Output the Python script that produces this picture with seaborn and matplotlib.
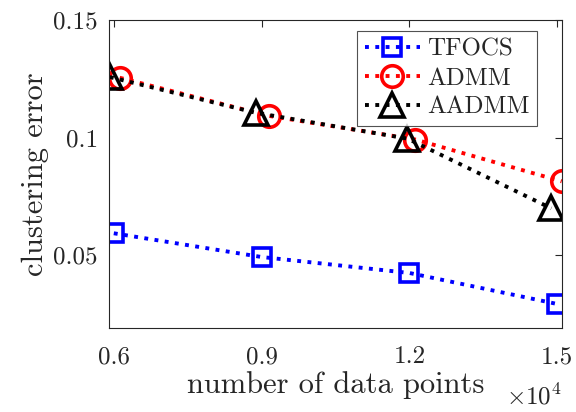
import numpy as np
import pandas as pd
import matplotlib
matplotlib.use("Agg")
import matplotlib.pyplot as plt
from matplotlib.ticker import FuncFormatter
import seaborn as sns

# data (x in number of points)
x_tfocs = [6000, 9000, 12000, 15000]
x_admm = [6120, 9140, 12120, 15090]
x_aadmm = [5920, 8880, 11960, 14880]
err_tfocs = [0.0593, 0.0492, 0.0424, 0.0292]
err_admm = [0.1255, 0.1093, 0.0992, 0.0814]
err_aadmm = [0.1258, 0.1106, 0.0996, 0.0699]
x_ticks = [6000, 9000, 12000, 15000]
y_ticks = [0.05, 0.1, 0.15]

sns.set_style("white")
plt.rcParams["font.family"] = ["cmr10", "DejaVu Serif"]
plt.rcParams["mathtext.fontset"] = "cm"
plt.rcParams["axes.formatter.use_mathtext"] = True

fig = plt.figure(figsize=(5.76, 4.12), dpi=100)
ax = fig.add_axes([0.189, 0.204, 0.787, 0.747])

series = [
    ("TFOCS", x_tfocs, err_tfocs, "blue", "s", 12.5),
    ("ADMM", x_admm, err_admm, "red", "o", 15.5),
    ("AADMM", x_aadmm, err_aadmm, "black", "^", 17.5),
]
for name, xs, ys, col, mk, ms in series:
    sns.lineplot(x=xs, y=ys, ax=ax, color=col, linestyle=":", linewidth=2.8,
                 marker=mk, markersize=ms, markerfacecolor="none",
                 markeredgecolor=col, markeredgewidth=2.6, label=name)

ax.set_xlim(5900, 15100)
ax.set_ylim(0.019, 0.15)
ax.set_xticks(x_ticks)
ax.set_yticks(y_ticks)
ax.xaxis.set_major_formatter(FuncFormatter(lambda v, p: f"{v/1e4:g}"))
ax.yaxis.set_major_formatter(FuncFormatter(lambda v, p: f"{v:g}"))
ax.tick_params(direction="in", length=5, width=0.8, color="#262626",
               labelsize=18, top=True, right=True, labelcolor="#262626")
ax.tick_params(axis="x", pad=13)
ax.tick_params(axis="y", pad=8)
for s in ax.spines.values():
    s.set_color("#262626")
    s.set_linewidth(0.8)

ax.set_xlabel("number of data points", fontsize=22, color="#262626", labelpad=2)
ax.set_ylabel("clustering error", fontsize=22, color="#262626", labelpad=3)
ax.text(1.0, -0.18, r"$\times10^4$", transform=ax.transAxes, ha="right", va="top",
        fontsize=18, color="#262626")

leg = ax.legend(loc="upper right", bbox_to_anchor=(0.945, 0.965), fontsize=18,
                frameon=True, fancybox=False, edgecolor="#262626",
                handlelength=2.2, handletextpad=0.3, borderpad=0.3, labelspacing=0.25,
                borderaxespad=0)
leg.get_frame().set_linewidth(0.8)

fig.savefig("out.png", dpi=100)
